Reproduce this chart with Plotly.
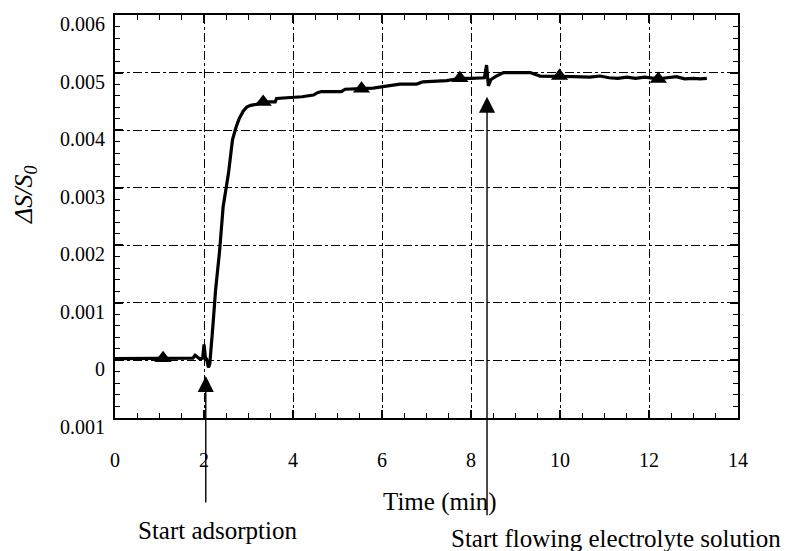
import plotly.graph_objects as go

# ---- data ----
time_min = [0.0, 0.3, 0.6, 1.0, 1.3, 1.6, 1.75, 1.8, 1.85, 1.9, 1.97, 2.0, 2.03, 2.06, 2.1, 2.13,
            2.2, 2.26, 2.35, 2.43, 2.55, 2.64, 2.72, 2.79, 2.88, 2.96, 3.05, 3.18, 3.33, 3.45,
            3.6, 3.63, 3.8, 4.01, 4.2, 4.46, 4.55, 4.64, 4.9, 5.09, 5.17, 5.35, 5.54, 5.8, 6.0,
            6.18, 6.4, 6.6, 6.78, 6.92, 7.2, 7.45, 7.6, 7.75, 8.0, 8.2, 8.3, 8.35, 8.39, 8.45,
            8.55, 8.73, 9.0, 9.33, 9.55, 9.8, 9.99, 10.3, 10.67, 10.9, 11.1, 11.3, 11.5, 11.7,
            11.9, 12.07, 12.21, 12.4, 12.62, 12.8, 13.0, 13.15, 13.3]
delta_s = [0.00003, 0.00003, 0.00004, 0.00004, 0.00004, 0.00004, 0.00004, 0.00009, 0.00005, 0.00003,
           0.00004, 0.00028, 0.00006, 0.00002, -0.00012, -0.00006, 0.0006, 0.00122, 0.0019, 0.00267,
           0.00325, 0.00383, 0.00405, 0.0042, 0.00433, 0.0044, 0.00443, 0.00445, 0.00449, 0.00449,
           0.00449, 0.00455, 0.00456, 0.00457, 0.00458, 0.00461, 0.00465, 0.00467, 0.00467, 0.00467,
           0.00471, 0.00472, 0.00472, 0.00473, 0.00475, 0.00477, 0.0048, 0.0048, 0.0048, 0.00484,
           0.00485, 0.00486, 0.00488, 0.0049, 0.0049, 0.0049, 0.00491, 0.00513, 0.00477, 0.00488,
           0.00493, 0.005, 0.005, 0.005, 0.00494, 0.00494, 0.00494, 0.00493, 0.00492, 0.00494,
           0.00491, 0.0049, 0.00492, 0.0049, 0.00492, 0.00491, 0.00489, 0.00491, 0.00493, 0.00489,
           0.0049, 0.00489, 0.0049]

marker_time = [1.08, 3.33, 5.54, 7.75, 9.99, 12.21]
marker_ds = [0.00004, 0.00449, 0.00472, 0.0049, 0.00494, 0.00489]

x_ticks = [0, 2, 4, 6, 8, 10, 12, 14]
y_tickvals = [-0.001, 0, 0.001, 0.002, 0.003, 0.004, 0.005, 0.006]
y_ticktext = ["0.001", "0", "0.001", "0.002", "0.003", "0.004", "0.005", "0.006"]

event_labels = ["Start adsorption", "Start flowing electrolyte solution"]
event_time = [2.04, 8.36]
event_tip = [-0.00027, 0.00458]

FONT = "Liberation Serif, Times New Roman, serif"

fig = go.Figure()
fig.add_trace(go.Scatter(x=time_min, y=delta_s, mode="lines",
                         line=dict(color="black", width=3.2), showlegend=False))
fig.add_trace(go.Scatter(x=marker_time, y=marker_ds, mode="markers",
                         marker=dict(symbol="triangle-up", size=15, color="black"),
                         showlegend=False))

axis_common = dict(showline=True, linecolor="black", linewidth=2, mirror="allticks",
                   ticks="inside", ticklen=8, tickwidth=1.5, tickcolor="black",
                   showgrid=True, gridcolor="black", gridwidth=1, griddash="dashdot",
                   zeroline=False, ticklabeloverflow="allow",
                   tickfont=dict(family=FONT, size=20, color="black"))

fig.update_xaxes(range=[0, 14], tickvals=x_ticks, ticklabelstandoff=23,
                 minor=dict(dtick=0.5, ticks="inside", ticklen=5, tickcolor="black", tickwidth=1.2,
                            showgrid=False),
                 **axis_common)
fig.update_yaxes(range=[-0.001, 0.006], tickvals=y_tickvals, ticktext=y_ticktext,
                 ticklabelshift=9, ticklabelstandoff=4,
                 minor=dict(dtick=0.0002, ticks="inside", ticklen=5, tickcolor="black", tickwidth=1.2,
                            showgrid=False),
                 **axis_common)

W, H = 788, 551
L, R, T, B = 115, 738, 15, 418
pw, ph = R - L, B - T

def px_x(p):
    return (p - L) / pw

def px_y(p):
    return (B - p) / ph

annotations = [
    dict(text="Time (min)", x=px_x(440), y=px_y(502), xref="paper", yref="paper",
         showarrow=False, font=dict(family=FONT, size=25, color="black"),
         xanchor="center", yanchor="middle"),
    dict(text="<i>ΔS/S<sub>0</sub></i>", x=px_x(25), y=px_y(195), xref="paper", yref="paper",
         showarrow=False, textangle=-90, font=dict(family=FONT, size=26, color="black"),
         xanchor="center", yanchor="middle"),
    dict(text=event_labels[0], x=px_x(218), y=px_y(530), xref="paper", yref="paper",
         showarrow=False, font=dict(family=FONT, size=25, color="black"),
         xanchor="center", yanchor="middle"),
    dict(text=event_labels[1], x=px_x(616), y=px_y(538), xref="paper", yref="paper",
         showarrow=False, font=dict(family=FONT, size=25, color="black"),
         xanchor="center", yanchor="middle"),
    dict(text="", x=event_time[0], y=event_tip[0], xref="x", yref="y", showarrow=True,
         ax=0, ay=128, arrowhead=2, arrowsize=2.3, arrowwidth=1.4, arrowcolor="black"),
    dict(text="", x=event_time[1], y=event_tip[1], xref="x", yref="y", showarrow=True,
         ax=0, ay=420, arrowhead=2, arrowsize=2.3, arrowwidth=1.4, arrowcolor="black"),
]

fig.update_layout(width=W, height=H, margin=dict(l=L, r=W - R, t=T, b=H - B),
                  plot_bgcolor="white", paper_bgcolor="white",
                  font=dict(family=FONT, color="black"),
                  annotations=annotations, showlegend=False)

fig.write_html("out.html", config={"displayModeBar": False},
               post_script="document.body.style.margin='0';document.body.style.overflow='hidden';")
